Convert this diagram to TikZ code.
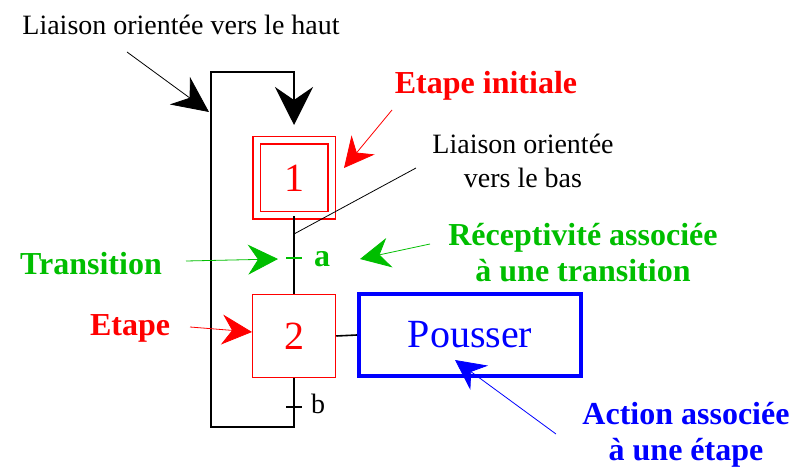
\documentclass[tikz,border=0pt]{standalone}
\usepackage{fontspec}
\setmainfont{Liberation Serif}
\usetikzlibrary{arrows.meta}

\definecolor{grafred}{RGB}{255,0,0}
\definecolor{grafgreen}{RGB}{0,190,0}
\definecolor{grafblue}{RGB}{0,0,255}

\tikzset{
  etape/.style={draw=grafred, line width=1.5pt, minimum size=83pt, inner sep=0pt,
    text=grafred, font=\fontsize{40}{40}\selectfont},
  action/.style={draw=grafblue, line width=4pt, minimum width=222pt, minimum height=82pt,
    text=grafblue, font=\fontsize{40}{40}\selectfont},
  liaison/.style={line width=1.6pt, black},
  txt/.style={font=\fontsize{28}{34}\selectfont, align=center, inner sep=0pt},
  lbl/.style={font=\bfseries\fontsize{32}{36}\selectfont, align=center, inner sep=0pt},
  pointer/.style={line width=0.8pt, -{Stealth[length=30pt,width=30pt,inset=10pt]}},
}

\begin{document}
\begin{tikzpicture}[x=1pt,y=-1pt]
\useasboundingbox (0,0) rectangle (796,473);

%Steps
\node[etape, minimum size=75pt, double=white, double distance=6pt] (e1) at (294,178) {1};
\node[etape] (e2) at (294,336) {2};

%Action
\node[action] (act) at (470,335) {Pousser};

%Links
\draw[liaison] (e1.south) -- (e2.north);
\draw[liaison] (e2.east) -- (act.west);

%Loop back up to step 1
\coordinate (bd) at (294,427);
\coordinate (bg) at (211,427);
\coordinate (hg) at (211,72);
\coordinate (hd) at (294,72);
\coordinate (tip) at (294,125);
\draw[liaison, -{Stealth[length=38pt,width=38pt,inset=13pt]}] (e2.south) -- (bd) -- (bg) -- (hg) -- (hd) -- (tip);

%Transitions
\draw[grafgreen, line width=1.5pt] (286,258) -- (302,258);
\node[lbl, text=grafgreen] (ta) at (322,259) {a};
\draw[liaison] (286,407) -- (302,407);
\node[txt] (tb) at (318,404) {b};

%Labels
\node[txt] (lhaut) at (181,25) {Liaison orientée vers le haut};
\node[txt] (lbas) at (523,161) {Liaison orientée\\vers le bas};
\node[lbl, text=grafred] (einit) at (486,86) {Etape initiale};
\node[lbl, text=grafred] (etape) at (130,328) {Etape};
\node[lbl, text=grafgreen] (trans) at (91,264) {Transition};
\node[lbl, text=grafgreen] (recep) at (583,253) {Réceptivité associée\\à une transition};
\node[lbl, text=grafblue] (actlbl) at (686,435) {Action associée\\à une étape};

%Pointers
\coordinate (p1) at (127,52);   \coordinate (q1) at (209,112);
\coordinate (p2) at (392,110);  \coordinate (q2) at (344,168);
\coordinate (p3) at (416,168);  \coordinate (q3) at (294,234);
\coordinate (p4) at (430,244);  \coordinate (q4) at (360,259);
\coordinate (p5) at (186,261);  \coordinate (q5) at (278,259);
\coordinate (p6) at (190,327);  \coordinate (q6) at (252,332);
\coordinate (p7) at (556,434);  \coordinate (q7) at (455,360);
\draw[pointer, -{Stealth[length=36pt,width=34pt,inset=12pt]}] (p1) -- (q1);
\draw[pointer, grafred] (p2) -- (q2);
\draw[line width=0.8pt] (p3) -- (q3);
\draw[pointer, grafgreen] (p4) -- (q4);
\draw[pointer, grafgreen] (p5) -- (q5);
\draw[pointer, grafred] (p6) -- (q6);
\draw[pointer, grafblue] (p7) -- (q7);

\end{tikzpicture}
\end{document}
